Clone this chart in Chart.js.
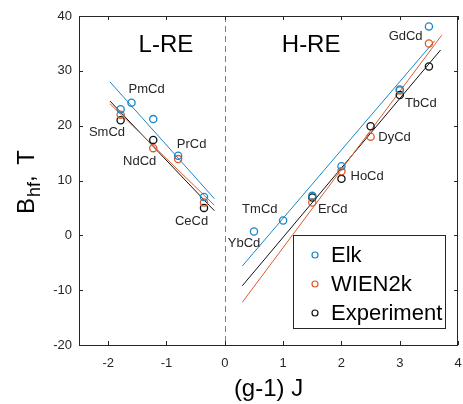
<!DOCTYPE html>
<html><head><meta charset="utf-8">
<script src="https://cdn.jsdelivr.net/npm/chart.js@4/dist/chart.umd.min.js"></script>
<style>html,body{margin:0;padding:0;background:#fff;}canvas{display:block;}</style>
</head><body>
<canvas id="c" width="463" height="404"></canvas>
<script>
// ---- data ----
const xTicks = [-2, -1, 0, 1, 2, 3, 4];
const yTicks = [-20, -10, 0, 10, 20, 30, 40];
const compounds = ['SmCd','PmCd','NdCd','PrCd','CeCd','YbCd','TmCd','ErCd','HoCd','DyCd','TbCd','GdCd'];
const gJ        = [-1.786, -1.6, -1.227, -0.8, -0.357, 0.5, 1.0, 1.5, 2.0, 2.5, 3.0, 3.5];
const elk       = [23.0, 24.2, 21.2, 14.5, 7.0, 0.7, 2.7, 7.2, 12.6, null, 26.6, 38.1];
const wien2k    = [22.0, null, 15.9, 13.9, 6.0, null, null, 6.0, 11.7, 18.0, 26.4, 35.0];
const experiment= [21.0, null, 17.4, null, 5.0, null, null, 6.9, 10.3, 19.9, 25.6, 30.8];
// fitted lines (end points)
const fitElkL  = [[-1.97, 28.0], [-0.18, 6.7]];
const fitWienL = [[-1.97, 24.0], [-0.18, 5.5]];
const fitExpL  = [[-1.97, 24.5], [-0.18, 4.5]];
const fitElkR  = [[0.30, -5.6], [3.60, 35.5]];
const fitWienR = [[0.30, -12.2], [3.72, 36.5]];
const fitExpR  = [[0.30, -9.2], [3.70, 33.8]];
// label anchors (data coords)
const labelX = [-2.02, -1.34, -1.46, -0.57, -0.57, 0.33, 0.60, 1.85, 2.44, 2.91, 3.36, 3.10];
const labelY = [18.7, 26.7, 13.4, 16.5, 2.5, -1.4, 4.8, 4.8, 10.8, 17.9, 24.0, 36.2];
const regionNames = ['L-RE', 'H-RE'];
const regionX = [-1.01, 1.48];
const regionY = [34.6, 34.6];
const seriesNames = ['Elk', 'WIEN2k', 'Experiment'];

const BLUE = '#1a86c6', ORANGE = '#df5a2a', BLACK = '#111111', AX = '#262626';
const FONT = "'Liberation Sans', Arial, Helvetica, sans-serif";

function pts(vals){ const o=[]; vals.forEach((v,i)=>{ if(v!==null) o.push({x:gJ[i], y:v}); }); return o; }
function line(p){ return p.map(a=>({x:a[0], y:a[1]})); }
function fitDs(p, col){ return {type:'line', data:line(p), borderColor:col, borderWidth:1, pointRadius:0, showLine:true, fill:false, order:2}; }
function ptDs(v, col, name){ return {type:'scatter', label:name, data:pts(v), borderColor:col, backgroundColor:'rgba(0,0,0,0)', pointRadius:3.6, pointBorderWidth:1.3, pointHoverRadius:3.6, order:1}; }

const overlay = {
  id:'overlay',
  beforeDatasetsDraw(chart){
    const {ctx, chartArea:a, scales:{x}} = chart;
    ctx.save();
    ctx.strokeStyle = '#7f7f7f'; ctx.lineWidth = 1; ctx.setLineDash([6,4]);
    const px = Math.round(x.getPixelForValue(0)) + 0.5;
    ctx.beginPath(); ctx.moveTo(px, a.top); ctx.lineTo(px, a.bottom); ctx.stroke();
    ctx.restore();
  },
  afterDraw(chart){
    const {ctx, chartArea:a, scales:{x, y}} = chart;
    ctx.save();
    // box + inward ticks
    ctx.strokeStyle = AX; ctx.lineWidth = 1;
    ctx.strokeRect(Math.round(a.left)+0.5, Math.round(a.top)+0.5, Math.round(a.right-a.left)-1, Math.round(a.bottom-a.top));
    ctx.beginPath();
    xTicks.forEach(t=>{ const p=Math.round(x.getPixelForValue(t))+0.5;
      ctx.moveTo(p,a.bottom); ctx.lineTo(p,a.bottom-4); ctx.moveTo(p,a.top); ctx.lineTo(p,a.top+4); });
    yTicks.forEach(t=>{ const p=Math.round(y.getPixelForValue(t))+0.5;
      ctx.moveTo(a.left,p); ctx.lineTo(a.left+4,p); ctx.moveTo(a.right,p); ctx.lineTo(a.right-4,p); });
    ctx.stroke();
    // compound labels
    ctx.fillStyle = AX; ctx.textAlign='center'; ctx.textBaseline='middle';
    ctx.font = '13px '+FONT;
    compounds.forEach((c,i)=> ctx.fillText(c, x.getPixelForValue(labelX[i]), y.getPixelForValue(labelY[i])));
    ctx.font = '24px '+FONT; ctx.fillStyle='#000';
    regionNames.forEach((r,i)=> ctx.fillText(r, x.getPixelForValue(regionX[i]), y.getPixelForValue(regionY[i])));
    // legend
    const lx=293, ly=235, lw=152, lh=93;
    ctx.fillStyle='#fff'; ctx.fillRect(lx,ly,lw,lh);
    ctx.strokeStyle=AX; ctx.lineWidth=1; ctx.strokeRect(lx+0.5,ly+0.5,lw,lh);
    const cols=[BLUE,ORANGE,BLACK];
    ctx.font='22px '+FONT; ctx.textAlign='left'; ctx.fillStyle='#000';
    seriesNames.forEach((n,i)=>{
      const cy = ly + 20 + i*29;
      ctx.beginPath(); ctx.strokeStyle=cols[i]; ctx.lineWidth=1.2; ctx.arc(lx+22, cy, 3, 0, Math.PI*2); ctx.stroke();
      ctx.fillStyle='#000'; ctx.fillText(n, lx+38, cy+1);
    });
    // axis titles
    ctx.fillStyle='#000'; ctx.textAlign='center'; ctx.textBaseline='middle';
    ctx.font='24px '+FONT;
    ctx.fillText('(g-1) J', x.getPixelForValue(0.75), 389);
    // y title: B_hf, T (rotated)
    ctx.translate(34, 214); ctx.rotate(-Math.PI/2);
    ctx.textAlign='left'; ctx.textBaseline='alphabetic';
    ctx.font='24px '+FONT; ctx.fillText('B', 0, 0);
    let w = ctx.measureText('B').width;
    ctx.font='18px '+FONT; ctx.fillText('hf', w+1, 6);
    w += 1 + ctx.measureText('hf').width;
    ctx.font='24px '+FONT; ctx.fillText(',', w, 0);
    w += ctx.measureText(', ').width + 4;
    ctx.fillText('T', w, 0);
    ctx.restore();
  }
};

new Chart(document.getElementById('c'), {
  data:{ datasets:[
    ptDs(elk, BLUE, 'Elk'), ptDs(wien2k, ORANGE, 'WIEN2k'), ptDs(experiment, BLACK, 'Experiment'),
    fitDs(fitElkL, BLUE), fitDs(fitWienL, ORANGE), fitDs(fitExpL, BLACK),
    fitDs(fitElkR, BLUE), fitDs(fitWienR, ORANGE), fitDs(fitExpR, BLACK)
  ]},
  options:{
    responsive:false, devicePixelRatio:1, animation:false,
    layout:{padding:{top:16, right:4, left:0, bottom:0}},
    plugins:{legend:{display:false}, tooltip:{enabled:false}},
    scales:{
      x:{type:'linear', min:-2.5, max:4,
        afterBuildTicks(s){ s.ticks = xTicks.map(v=>({value:v})); },
        ticks:{color:AX, font:{family:FONT, size:13}, padding:11, maxRotation:0},
        grid:{display:false, tickLength:0}, border:{display:false},
        afterFit(s){ s.height = 59; s.paddingLeft = 0; s.paddingRight = 0; }},
      y:{type:'linear', min:-20, max:40,
        afterBuildTicks(s){ s.ticks = yTicks.map(v=>({value:v})); },
        ticks:{color:AX, font:{family:FONT, size:13}, padding:7},
        grid:{display:false, tickLength:0}, border:{display:false},
        afterFit(s){ s.width = 79; s.paddingTop = 0; s.paddingBottom = 0; }}
    }
  },
  plugins:[overlay]
});
</script>
</body></html>
